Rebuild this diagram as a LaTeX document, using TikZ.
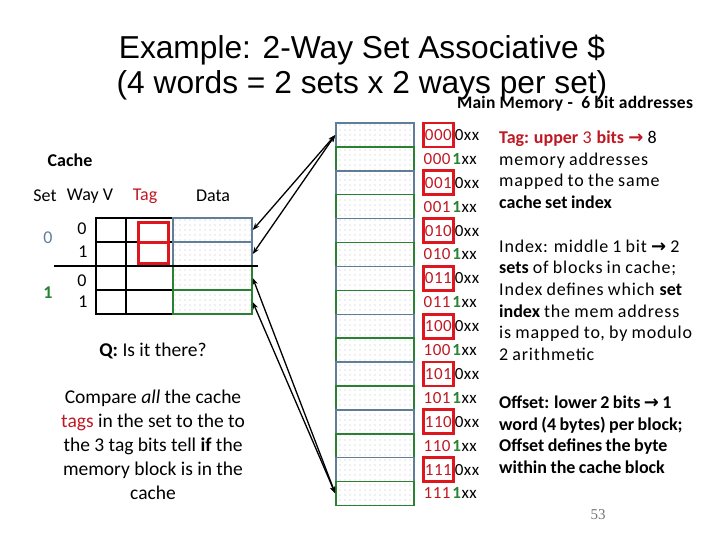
\documentclass[tikz,border=0pt]{standalone}
\usepackage{fontspec}
\setmainfont{Carlito}
\newfontfamily\notefont[LetterSpace=4.5, WordSpace=0.85, BoldFeatures={LetterSpace=0}]{Carlito}
\newfontfamily\labelfont[LetterSpace=1.5]{Carlito}
\newfontfamily\addrfont[LetterSpace=3]{Carlito}
\newfontfamily\arialfont{Liberation Sans}
\newfontfamily\timesfont{Liberation Serif}
\newfontfamily\symfont{DejaVu Sans}
\usetikzlibrary{patterns.meta,arrows.meta,positioning}
\definecolor{setblue}{RGB}{96,126,152}
\definecolor{setgreen}{RGB}{40,130,50}
\definecolor{boxred}{RGB}{222,22,30}
\definecolor{tagred}{RGB}{192,24,34}
\newcommand{\rarr}{{\symfont\bfseries\char"2192}}

\begin{document}
\begin{tikzpicture}[x=1pt, y=-1pt, every node/.style={font=\fontsize{18}{21.7}\selectfont},
  vcell/.style={draw=black, line width=1.5pt, minimum width=30, minimum height=24, inner sep=0pt},
  tcell/.style={draw=black, line width=1.5pt, minimum width=47, minimum height=24, inner sep=0pt},
  dcell/.style={line width=1.5pt, minimum width=79, minimum height=24, inner sep=0pt, fill=white,
    postaction={pattern={Dots[distance=5pt, radius=0.35pt]}, pattern color=black!70}},
  mcell/.style={line width=1.5pt, minimum width=78, minimum height=23.9, inner sep=0pt, fill=white,
    postaction={pattern={Dots[distance=5pt, radius=0.35pt]}, pattern color=black!70}},
  tagbox/.style={draw=boxred, line width=2.8pt},
  addr/.style={font=\addrfont\fontsize{17}{20}\selectfont, inner ysep=0pt},
  link/.style={{Stealth[length=7pt]}-{Stealth[length=7pt]}, line width=1.3pt},
  note/.style={font=\notefont\fontsize{18}{21.7}\selectfont, align=left, anchor=north west, inner sep=0pt}]
\useasboundingbox (0,0) rectangle (720,540);

% title
\node[font=\arialfont\fontsize{31.7}{35}\selectfont, align=center] (title) at (362,68)
  {Example: 2-Way Set Associative \$\\(4 words = 2 sets x 2 ways per set)};
\node[font=\labelfont\bfseries\fontsize{17.5}{18}\selectfont] (mmlabel) at (575,104) {Main Memory -\ \ 6 bit addresses};

% cache table
\node[font=\bfseries\fontsize{18}{20}\selectfont] (cachelabel) at (70,160) {Cache};
\node (hset) at (45,196) {Set};
\node (hway) at (90,196) {Way V};
\node[text=tagred] (htag) at (145,196) {Tag};
\node (hdata) at (213,196) {Data};
\foreach \r in {0,...,3} {
  \pgfmathsetmacro\y{230+24*\r}
  \node[vcell] (v\r) at (111,\y) {};
  \node[tcell] (t\r) at (149.5,\y) {};
}
\node[dcell, draw=setblue] (d0) at (212.5,230) {};
\node[dcell, draw=setblue] (d1) at (212.5,254) {};
\node[dcell, draw=setgreen] (d2) at (212.5,278) {};
\node[dcell, draw=setgreen] (d3) at (212.5,302) {};
\draw[line width=2pt] (54,266) -- (258,266);
\node (w0) at (82,229) {0};
\node (w1) at (83,252) {1};
\node (w2) at (82,281) {0};
\node (w3) at (83,302) {1};
\node[text=setblue] (s0) at (48,238) {0};
\node[text=setgreen, font=\bfseries\fontsize{18}{20}\selectfont] (s1) at (48,293) {1};
\node[draw=boxred, line width=3pt, minimum width=30, minimum height=20, inner sep=0pt] (tb0) at (153,232.5) {};
\node[draw=boxred, line width=3pt, minimum width=30, minimum height=21, inner sep=0pt] (tb1) at (153,252.5) {};

% question
\node[font=\fontsize{19.5}{24}\selectfont] (q) at (153,351) {\textbf{Q:} Is it there?};
\node[font=\fontsize{19.5}{24}\selectfont, align=center, anchor=north] (compare) at (153,386)
  {Compare \textit{all} the cache\\\textcolor{tagred}{tags} in the set to the to\\the 3 tag bits tell \textbf{if} the\\memory block is in the\\cache};

% main memory
\foreach \i in {0,...,15} {
  \pgfmathsetmacro\y{135+23.9*\i}
  \ifodd\i
    \node[mcell, draw=setgreen] (m\i) at (375,\y) {};
  \else
    \node[mcell, draw=setblue] (m\i) at (375,\y) {};
  \fi
}
\foreach \t/\s [count=\n from 0] in {000/0,000/1,001/0,001/1,010/0,010/1,011/0,011/1,100/0,100/1,101/0,101/1,110/0,110/1,111/0,111/1} {
  \pgfmathsetmacro\y{135+23.9*\n}
  \ifodd\n
    \node[addr, inner xsep=1.5pt, minimum height=24, anchor=west] (tg\n) at (422,\y) {\textcolor{tagred}{\t}};
    \node[addr, inner xsep=0pt, base right=0pt of tg\n] (ix\n) {\textcolor{setgreen}{\textbf{\s}}xx};
  \else
    \node[addr, tagbox, inner xsep=1.5pt, minimum height=24, anchor=west] (tg\n) at (422,\y) {\textcolor{tagred}{\t}};
    \node[addr, inner xsep=0pt, base right=0pt of tg\n] (ix\n) {\s xx};
  \fi
}

% links
\draw[link] (m0.west) -- (d0.east);
\draw[link] (m0.west) -- (d1.east);
\draw[link] (m15.west) -- (d2.east);
\draw[link] (m15.west) -- (d3.east);

% notes
\node[note] (tagnote) at (499,130.5) {\textcolor{tagred}{\textbf{Tag: upper} 3 \textbf{bits} \rarr} 8\\memory addresses\\mapped to the same\\\textbf{cache set index}};
\node[note] (indexnote) at (499,239.5) {Index: middle 1 bit \rarr\ 2\\\textbf{sets} of blocks in cache;\\Index defines which \textbf{set}\\\textbf{index} the mem address\\is mapped to, by modulo\\2 arithmetic};
\node[note, font=\notefont\bfseries\fontsize{18}{21.7}\selectfont] (offsetnote) at (499,395.5) {Offset: lower 2 bits \rarr\ 1\\word (4 bytes) per block;\\Offset defines the byte\\within the cache block};
\node[font=\timesfont\fontsize{15}{18}\selectfont, text=black!55] (pagenum) at (598,515) {53};
\end{tikzpicture}
\end{document}
